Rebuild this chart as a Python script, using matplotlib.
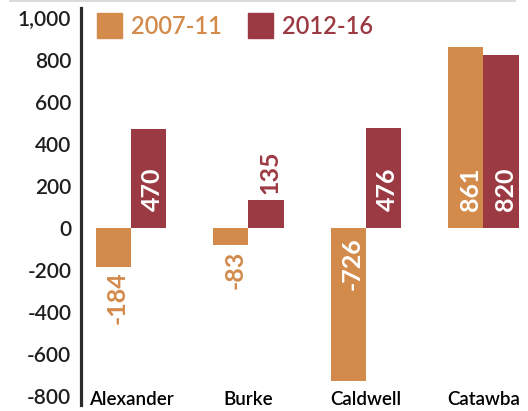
import matplotlib
matplotlib.use("Agg")
import matplotlib.pyplot as plt
from matplotlib.lines import Line2D
from matplotlib.patches import Rectangle

# county net change, two periods
counties = ["Alexander", "Burke", "Caldwell", "Catawba"]
periods = ["2007-11", "2012-16"]
change_0711 = [-184, -83, -726, 861]
change_1216 = [470, 135, 476, 820]
yticks = [-800, -600, -400, -200, 0, 200, 400, 600, 800, 1000]

ORANGE = "#D38B4C"
DARKRED = "#9B3A42"
INK = "#1e1e1e"

plt.rcParams["font.family"] = ["Lato", "DejaVu Sans"]

fig = plt.figure(figsize=(5.28, 4.11), dpi=100)
ax = fig.add_axes([81 / 528, 6 / 411, 447 / 528, 397 / 411])

bar_w = 0.3
series = [(change_0711, ORANGE, -bar_w / 2), (change_1216, DARKRED, bar_w / 2)]
for (vals, col, off), name in zip(series, periods):
    xs = [i + off for i in range(len(vals))]
    ax.bar(xs, vals, width=bar_w, color=col, label=name, linewidth=0)
    for x, v in zip(xs, vals):
        if abs(v) > 400:
            # inside the bar, from the base
            if v > 0:
                ax.annotate(str(v), (x, 0), xytext=(3, 12), textcoords="offset points",
                            rotation=90, ha="center", va="bottom", color="white",
                            fontsize=18, fontweight="bold")
            else:
                ax.annotate(str(v), (x, 0), xytext=(3, -6.5), textcoords="offset points",
                            rotation=90, ha="center", va="top", color="white",
                            fontsize=18, fontweight="bold")
        else:
            if v > 0:
                ax.annotate(str(v), (x, v), xytext=(3, 4.3), textcoords="offset points",
                            rotation=90, ha="center", va="bottom", color=col,
                            fontsize=18, fontweight="bold")
            else:
                ax.annotate(str(v), (x, v), xytext=(3, -3.6), textcoords="offset points",
                            rotation=90, ha="center", va="top", color=col,
                            fontsize=18, fontweight="bold")

for i, c in enumerate(counties):
    ax.text(i, 0, c, transform=ax.get_xaxis_transform(), ha="center", va="baseline",
            fontsize=13.5, color="black", fontweight="semibold")

ax.set_xlim(-0.4255, 3.379)
ax.set_ylim(-841, 1045)
ax.set_xticks([])
ax.set_yticks(yticks)
ax.set_yticklabels([f"{t:,}" for t in yticks])
ax.tick_params(axis="y", length=0, pad=7, labelsize=15, labelcolor=INK)
for lab in ax.get_yticklabels():
    lab.set_fontweight("semibold")

for s in ["top", "right", "bottom"]:
    ax.spines[s].set_visible(False)
ax.spines["left"].set_linewidth(2.3)
ax.spines["left"].set_color("#2b2b2b")

# legend drawn by hand (pixel layout of the reference)
def axfrac(px, py):
    return (px - 81) / 447, (405 - py) / 397

for (sx, tx), name, col in zip([(97, 131), (248, 282)], periods, [ORANGE, DARKRED]):
    x0, y0 = axfrac(sx, 38)
    ax.add_patch(Rectangle((x0, y0), 25 / 447, 25 / 397, transform=ax.transAxes,
                           color=col, clip_on=False))
    tx0, ty0 = axfrac(tx, 26)
    ax.text(tx0, ty0, name, transform=ax.transAxes, ha="left", va="center",
            fontsize=17, color=col, fontweight="semibold")

fig.add_artist(Line2D([10 / 528, 515 / 528], [1 - 1 / 411] * 2, color="#d4d4d4", lw=1.2))

fig.savefig("out.png", dpi=100)
